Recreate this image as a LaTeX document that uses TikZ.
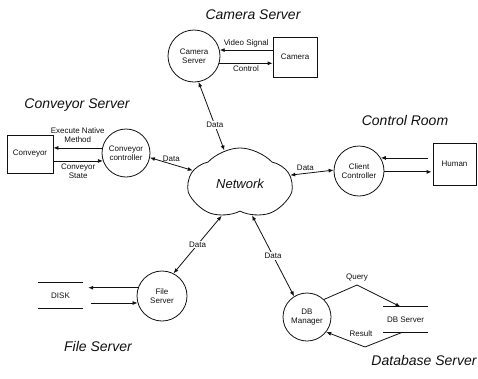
\documentclass[tikz,border=0pt]{standalone}
\usepackage{fontspec}
\setmainfont{Liberation Sans}
\usetikzlibrary{arrows.meta,positioning,shapes.symbols}
\definecolor{inkline}{HTML}{111111}
\tikzset{
  >=Latex,
  title/.style={font=\itshape\fontsize{14}{16}\selectfont,text=inkline},
  process/.style={
    circle, draw=inkline, line width=0.8pt, minimum size=50pt,
    inner sep=0pt, align=center, font=\fontsize{8}{9}\selectfont, text=inkline
  },
  entity/.style={
    rectangle, draw=inkline, line width=0.8pt, align=center,
    font=\fontsize{8}{9}\selectfont, text=inkline
  },
  store/.style={
    rectangle, minimum width=45pt, minimum height=25pt,
    font=\fontsize{8}{9}\selectfont, text=inkline
  },
  storeline/.style={line width=0.8pt, draw=inkline},
  network/.style={
    cloud, cloud puffs=5, cloud puff arc=95, cloud ignores aspect,
    draw=inkline, line width=0.8pt, minimum width=102pt, minimum height=72pt,
    font=\itshape\fontsize{13}{15}\selectfont, text=inkline
  },
  arrow/.style={-{Latex[length=5pt,width=4pt]}, line width=0.8pt, draw=inkline},
  link/.style={{Latex[length=5pt,width=4pt]}-{Latex[length=5pt,width=4pt]}, line width=0.8pt, draw=inkline},
  flow/.style={font=\fontsize{8}{9}\selectfont, text=inkline, align=center, inner sep=2.5pt},
  datalbl/.style={flow, fill=white, inner sep=1pt}
}
\newcommand{\storelines}[1]{
  \draw[storeline] (#1.north west) -- (#1.north east);
  \draw[storeline] (#1.south west) -- (#1.south east);
}

\begin{document}
\begin{tikzpicture}[x=1pt,y=-1pt]
\useasboundingbox (0,0) rectangle (478,378);
% group titles
\node[title] (camtitle) at (253,15) {Camera Server};
\node[title] (convtitle) at (77,105) {Conveyor Server};
\node[title] (roomtitle) at (405,120) {Control Room};
\node[title] (filetitle) at (98,346) {File Server};
\node[title] (dbtitle) at (424,360) {Database Server};

\node[network, shape border rotate=18] (net) at (240,184) {Network};

% camera server
\node[process, minimum size=52pt] (camsrv) at (194,56) {Camera\\Server};
\node[entity, minimum width=44pt, minimum height=40pt] (camera) at (295,57) {Camera};
\draw[arrow] (camsrv.13 -| camera.west) -- (camsrv.13) node[flow, midway, above] (vidlbl) {Video Signal};
\draw[arrow] (camsrv.-16) -- (camsrv.-16 -| camera.west) node[flow, midway, below] (ctrllbl) {Control};

% conveyor server
\node[process, minimum size=48pt] (convctl) at (126,153) {Conveyor\\controller};
\node[entity, minimum width=46pt, minimum height=38pt] (conveyor) at (30,154) {Conveyor};
\draw[arrow] (convctl.168) -- (convctl.168 -| conveyor.east) node[flow, midway, above, yshift=2pt] (execlbl) {Execute Native\\Method};
\draw[arrow] (convctl.199 -| conveyor.east) -- (convctl.199) node[flow, midway, below] (statelbl) {Conveyor\\State};

% control room
\node[process] (client) at (359,171) {Client\\Controller};
\node[entity, minimum width=43pt, minimum height=42pt] (human) at (454.5,164) {Human};
\draw[arrow, shorten <=5pt] (client.31 -| human.west) -- (client.31);
\draw[arrow, shorten >=1pt] (client.-2) -- (client.-2 -| human.west);

% file server
\node[process] (filesrv) at (162,296) {File\\Server};
\node[store] (disk) at (60.5,295.5) {DISK};
\storelines{disk}
\draw[arrow, shorten >=5pt] (filesrv.161) -- (filesrv.161 -| disk.east);
\draw[arrow, shorten <=8pt] (filesrv.196 -| disk.east) -- (filesrv.196);

% database server
\node[process, minimum size=48pt] (dbmgr) at (307,317) {DB\\Manager};
\node[store] (dbsrv) at (405.5,319.5) {DB Server};
\storelines{dbsrv}
\coordinate (querybend) at (357,285);
\coordinate (resultbend) at (365,347);
\draw[arrow] (dbmgr.46) -- (querybend) -- ([xshift=-5pt]dbsrv.north);
\node[flow, above=1pt of querybend] (querylbl) {Query};
\draw[arrow] ([xshift=-3pt]dbsrv.south) -- (resultbend) -- (dbmgr.-38);
\node[flow] (resultlbl) at (361,334) {Result};

% data links to the network
\draw[link] (camsrv.-80) -- (net.115) node[datalbl, pos=0.63] (camdata) {Data};
\draw[link] (convctl.-11) -- (net.164) node[flow, midway, above] (convdata) {Data};
\draw[link] (net.10) -- (client.178) node[flow, pos=0.35, above] (clientdata) {Data};
\draw[link] (filesrv.63) -- (net.240) node[datalbl, pos=0.5] (filedata) {Data};
\draw[link] (net.-69) -- (dbmgr.122) node[datalbl, pos=0.5] (dbdata) {Data};
\end{tikzpicture}
\end{document}
